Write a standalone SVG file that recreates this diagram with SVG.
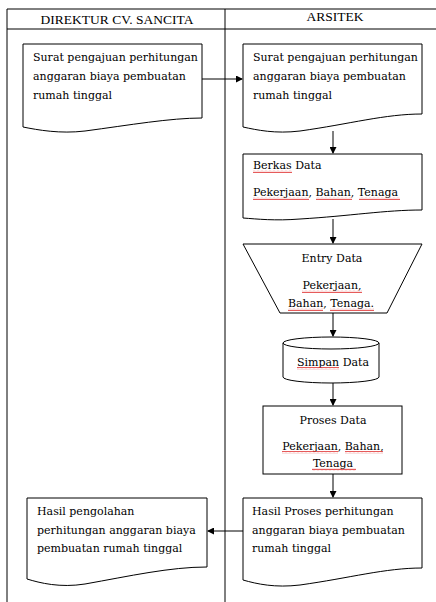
<svg xmlns="http://www.w3.org/2000/svg" width="436" height="602" viewBox="0 0 436 602">
<defs>
<style>
.ln{fill:none;stroke:#000;stroke-width:1}
.sh{fill:#fff;stroke:#000;stroke-width:1}
.hd{font-family:"Liberation Serif","Times New Roman",serif;font-size:13.5px;fill:#000}
.tx{font-family:"DejaVu Serif","Liberation Serif",serif;font-size:11px;fill:#000}
.sq{fill:url(#wave)}
</style>
<pattern id="wave" x="0" y="0" width="4" height="3" patternUnits="userSpaceOnUse">
<path d="M0,2.2 L1,0.8 L2,2.2 L3,0.8 L4,2.2" fill="none" stroke="#e03030" stroke-width="0.8"/>
</pattern>
<marker id="ah" markerWidth="7" markerHeight="7" refX="6" refY="3.5" orient="auto" markerUnits="userSpaceOnUse">
<path d="M0,0 L7,3.5 L0,7 Z" fill="#000"/>
</marker>
</defs>
<rect width="436" height="602" fill="#fff"/>
<g id="frame">
<path class="ln" d="M7,602 V9 H437 M7,29 H437 M225,9 V602"/>
<text class="hd" x="117" y="24" text-anchor="middle">DIREKTUR CV. SANCITA</text>
<text class="hd" x="335" y="21" text-anchor="middle">ARSITEK</text>
</g>
<g id="connectors">
<path class="ln" d="M202,79 H242" marker-end="url(#ah)"/>
<path class="ln" d="M333,131 V153" marker-end="url(#ah)"/>
<path class="ln" d="M333,219 V243" marker-end="url(#ah)"/>
<path class="ln" d="M333,313 V336" marker-end="url(#ah)"/>
<path class="ln" d="M333,383 V405" marker-end="url(#ah)"/>
<path class="ln" d="M333,474 V497" marker-end="url(#ah)"/>
<path class="ln" d="M243,531 H208" marker-end="url(#ah)"/>
</g>
<g id="doc-surat-direktur">
<path class="sh" d="M23,44 H202 V118 C170,118 130,125 85,131 C60,134 38,130 23,127 Z"/>
<text class="tx" x="33" y="61">Surat pengajuan perhitungan</text>
<text class="tx" x="33" y="80">anggaran biaya pembuatan</text>
<text class="tx" x="33" y="99">rumah tinggal</text>
</g>
<g id="doc-surat-arsitek">
<path class="sh" d="M243,44 H422 V114 C385,114 350,124 300,131 C275,134 257,130 243,127 Z"/>
<text class="tx" x="253" y="61">Surat pengajuan perhitungan</text>
<text class="tx" x="253" y="80">anggaran biaya pembuatan</text>
<text class="tx" x="253" y="99">rumah tinggal</text>
</g>
<g id="doc-berkas">
<path class="sh" d="M243,154 H422 V210 C385,210 350,216 300,219 C275,221 257,219 243,218 Z"/>
<text class="tx" x="253" y="169">Berkas Data</text>
<text class="tx" x="253" y="196">Pekerjaan, Bahan, Tenaga</text>
<rect class="sq" x="253" y="170" width="39" height="3"/>
<rect class="sq" x="253" y="197" width="56" height="3"/>
<rect class="sq" x="316" y="197" width="36" height="3"/>
<rect class="sq" x="359" y="197" width="41" height="3"/>
</g>
<g id="entry-data">
<path class="sh" d="M243,244 H422 L387,313 H280 Z"/>
<text class="tx" x="332" y="262" text-anchor="middle">Entry Data</text>
<text class="tx" x="332" y="289" text-anchor="middle">Pekerjaan,</text>
<text class="tx" x="331" y="307" text-anchor="middle">Bahan, Tenaga.</text>
<rect class="sq" x="302" y="290" width="60" height="3"/>
<rect class="sq" x="288" y="308" width="35" height="3"/>
<rect class="sq" x="330" y="308" width="44" height="3"/>
</g>
<g id="simpan-data">
<path class="sh" d="M283,343 A48,6 0 0 1 379,343 V377 A48,6 0 0 1 283,377 Z"/>
<path class="ln" d="M283,343 A48,6 0 0 0 379,343"/>
<text class="tx" x="333" y="366" text-anchor="middle">Simpan Data</text>
<rect class="sq" x="297" y="367" width="42" height="3"/>
</g>
<g id="proses-data">
<rect class="sh" x="263" y="406" width="139" height="68"/>
<text class="tx" x="333" y="424" text-anchor="middle">Proses Data</text>
<text class="tx" x="333" y="450" text-anchor="middle">Pekerjaan, Bahan,</text>
<text class="tx" x="333" y="467" text-anchor="middle">Tenaga</text>
<rect class="sq" x="282" y="451" width="56" height="3"/>
<rect class="sq" x="345" y="451" width="38" height="3"/>
<rect class="sq" x="312" y="468" width="44" height="3"/>
</g>
<g id="doc-hasil-arsitek">
<path class="sh" d="M243,498 H422 V568 C385,568 350,578 300,585 C275,588 257,584 243,580 Z"/>
<text class="tx" x="252" y="515">Hasil Proses perhitungan</text>
<text class="tx" x="252" y="534">anggaran biaya pembuatan</text>
<text class="tx" x="252" y="552">rumah tinggal</text>
</g>
<g id="doc-hasil-direktur">
<path class="sh" d="M27,498 H207 V567 C170,567 130,576 85,584 C60,588 40,583 27,579 Z"/>
<text class="tx" x="37" y="515">Hasil pengolahan</text>
<text class="tx" x="37" y="534">perhitungan anggaran biaya</text>
<text class="tx" x="37" y="552">pembuatan rumah tinggal</text>
</g>
</svg>
